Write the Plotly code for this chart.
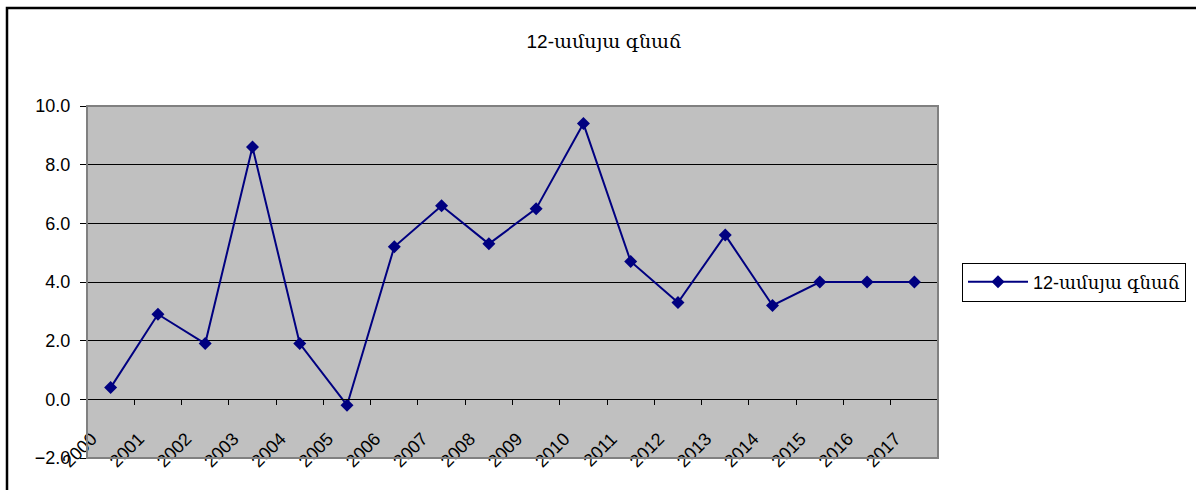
import plotly.graph_objects as go

# data
years = [str(y) for y in range(2000, 2018)]
inflation = [0.4, 2.9, 1.9, 8.6, 1.9, -0.2, 5.2, 6.6, 5.3, 6.5, 9.4, 4.7, 3.3, 5.6, 3.2, 4.0, 4.0, 4.0]
series_name = "12-ամսյա գնաճ"
y_ticks = [-2, 0, 2, 4, 6, 8, 10]

W, H = 1196, 490
L, R, T, B = 87, 258, 106, 32
pw, ph = W - L - R, H - T - B


def px_x(x):
    return (x - L) / pw


def px_y(y):
    return (H - B - y) / ph


font = "Arial, 'Liberation Sans', 'DejaVu Serif', serif"
navy = "#000080"

fig = go.Figure()
fig.add_trace(go.Scatter(
    x=years,
    y=inflation,
    mode="lines+markers",
    name=series_name,
    line=dict(color=navy, width=2),
    marker=dict(symbol="diamond", size=10, color=navy),
))

fig.update_layout(
    width=W,
    height=H,
    margin=dict(l=L, r=R, t=T, b=B, autoexpand=False),
    paper_bgcolor="white",
    plot_bgcolor="#C0C0C0",
    font=dict(family=font, size=17, color="black"),
    title=dict(text=series_name, x=0.505, xref="container", xanchor="center",
               y=1 - 41 / H, yref="container", yanchor="middle",
               font=dict(size=19)),
    showlegend=True,
    legend=dict(x=px_x(962), xanchor="left", y=px_y(282), yanchor="middle",
                bordercolor="black", borderwidth=1, bgcolor="white",
                font=dict(size=18), itemwidth=60),
    xaxis=dict(
        type="category",
        anchor="free",
        position=2 / 12,
        tickson="boundaries",
        ticks="outside",
        ticklen=5,
        tickcolor="black",
        tickangle=-45,
        tickfont=dict(size=18),
        ticklabelshift=-19,
        ticklabelstandoff=21,
        showline=True,
        linecolor="black",
        linewidth=1,
        showgrid=False,
        zeroline=False,
        range=[-0.5, len(years) - 0.5],
    ),
    yaxis=dict(
        range=[-2, 10],
        tickvals=y_ticks,
        tickformat=".1f",
        ticks="outside",
        ticklen=6,
        tickcolor="black",
        tickfont=dict(size=18),
        ticklabelstandoff=6,
        showgrid=True,
        gridcolor="black",
        gridwidth=1,
        zeroline=False,
        showline=False,
    ),
    shapes=[
        # plot area border
        dict(type="rect", xref="paper", yref="paper", x0=0, y0=0, x1=1, y1=1,
             line=dict(color="#808080", width=2), layer="above"),
        # outer chart border
        dict(type="rect", xref="paper", yref="paper",
             x0=px_x(7), x1=px_x(1205), y0=px_y(500), y1=px_y(8),
             line=dict(color="black", width=2.5)),
    ],
)

fig.write_html("out.html", config={"displayModeBar": False},
               post_script="document.body.style.margin='0';")
